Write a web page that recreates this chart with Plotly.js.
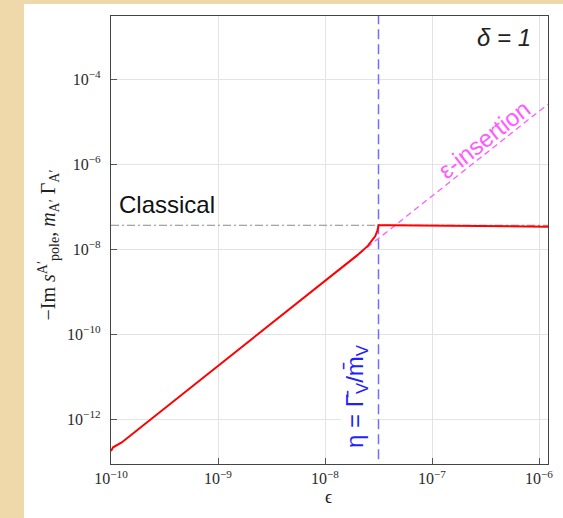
<!DOCTYPE html>
<html>
<head>
<meta charset="utf-8">
<script src="https://cdn.plot.ly/plotly-3.0.1.min.js"></script>
<style>html,body{margin:0;padding:0;background:#efd9ab;}#plot{width:563px;height:518px;}</style>
</head>
<body>
<div id="plot"></div>
<script>
// ---- data ----
const redEps = [1e-10, 1.047e-10, 1.259e-10, 3.162e-10, 1e-9, 3.162e-9, 1e-8, 1.585e-8, 1.995e-8, 2.512e-8, 2.754e-8, 2.951e-8, 3.09e-8, 3.162e-8, 3.981e-8, 6.31e-8, 1e-7, 3.162e-7, 1e-6, 1.213e-6];
const redVal = [1.795e-13, 2.19e-13, 2.858e-13, 1.803e-12, 1.803e-11, 1.803e-10, 1.803e-9, 4.53e-9, 7.18e-9, 1.202e-8, 1.585e-8, 2.042e-8, 2.754e-8, 3.673e-8, 3.656e-8, 3.63e-8, 3.606e-8, 3.548e-8, 3.451e-8, 3.404e-8];
const insEps = [1.259e-8, 1.213e-6];
const insVal = [2.858e-9, 2.6e-5];
const classEps = [1e-10, 1.213e-6];
const classVal = [3.673e-8, 3.673e-8];
const etaEps = [3.162e-8, 3.162e-8];
const etaVal = [1e-14, 1e-2];
const xTickVals = [1e-10, 1e-9, 1e-8, 1e-7, 1e-6];
const xTickText = ['10<sup>−10</sup>', '10<sup>−9</sup>', '10<sup>−8</sup>', '10<sup>−7</sup>', '10<sup>−6</sup>'];
const yTickVals = [1e-12, 1e-10, 1e-8, 1e-6, 1e-4];
const yTickText = ['10<sup>−12</sup>', '10<sup>−10</sup>', '10<sup>−8</sup>', '10<sup>−6</sup>', '10<sup>−4</sup>'];

const traces = [
  {x: classEps, y: classVal, mode: 'lines', line: {color: '#8a8a8a', width: 1.2, dash: '8px,3px,2px,3px'}, hoverinfo: 'skip'},
  {x: etaEps, y: etaVal, mode: 'lines', line: {color: '#6f6fff', width: 1.5, dash: '10px,5px'}, hoverinfo: 'skip'},
  {x: insEps, y: insVal, mode: 'lines', line: {color: '#ff5cff', width: 1.3, dash: '6px,4px'}, hoverinfo: 'skip'},
  {x: redEps, y: redVal, mode: 'lines', line: {color: '#ff0000', width: 2}, hoverinfo: 'skip'}
];

const serif = 'Liberation Serif, DejaVu Serif, serif';
const sans = 'Liberation Sans, Arial, sans-serif';

const axisCommon = {
  type: 'log', showgrid: true, gridcolor: '#e3e3e3', gridwidth: 1,
  showline: true, linecolor: '#444', linewidth: 1.2, mirror: true,
  ticks: 'inside', ticklen: 6, tickcolor: '#555', tickwidth: 1,
  zeroline: false,
  tickfont: {family: serif, size: 16, color: '#2a2a2a'}
};

const layout = {
  width: 563, height: 518,
  margin: {l: 111, r: 15, t: 16, b: 54},
  paper_bgcolor: '#efd9ab', plot_bgcolor: '#ffffff',
  showlegend: false,
  xaxis: Object.assign({}, axisCommon, {range: [-10, -5.916], tickmode: 'array', tickvals: xTickVals, ticktext: xTickText}),
  yaxis: Object.assign({}, axisCommon, {range: [-13.052, -2.511], tickmode: 'array', tickvals: yTickVals, ticktext: yTickText, ticklabelstandoff: 6}),
  shapes: [
    {type: 'rect', xref: 'paper', yref: 'paper', x0: -0.199, x1: 1.1, y0: -0.2, y1: 1.0268, fillcolor: '#ffffff', line: {width: 0}, layer: 'below'}
  ],
  annotations: [
    {xref: 'paper', yref: 'paper', x: 0.965, y: 0.953, xanchor: 'right', yanchor: 'middle', showarrow: false,
     text: '<i>δ = 1</i>', font: {family: sans, size: 24, color: '#222'}},
    {xref: 'paper', yref: 'paper', x: 0.0144, y: 0.580, xanchor: 'left', yanchor: 'middle', showarrow: false,
     text: 'Classical', font: {family: sans, size: 24, color: '#111'}},
    {xref: 'paper', yref: 'paper', x: 0.853, y: 0.7254, xanchor: 'center', yanchor: 'middle', showarrow: false, textangle: -38.4,
     text: 'ε-insertion', font: {family: sans, size: 24, color: '#ff5cff'}},
    {xref: 'paper', yref: 'paper', x: 0.563, y: 0.152, xanchor: 'center', yanchor: 'middle', showarrow: false, textangle: -90,
     text: 'η = Γ̄<sub>V</sub>/m̄<sub>V</sub>', font: {family: sans, size: 24, color: '#1f1fff'}, bgcolor: '#ffffff', borderpad: 0},
    {xref: 'paper', yref: 'paper', x: -0.143, y: 0.489, xanchor: 'center', yanchor: 'middle', showarrow: false, textangle: -90,
     text: '−Im <i>s</i><sup>A′</sup><sub>pole</sub>, <i>m</i><sub>A′</sub> Γ<sub>A′</sub>', font: {family: serif, size: 20, color: '#222'}},
    {xref: 'paper', yref: 'paper', x: 0.4966, y: -0.0737, xanchor: 'center', yanchor: 'middle', showarrow: false,
     text: 'ϵ', font: {family: serif, size: 18, color: '#222'}}
  ]
};

Plotly.newPlot('plot', traces, layout, {displayModeBar: false, staticPlot: true});
</script>
</body>
</html>
